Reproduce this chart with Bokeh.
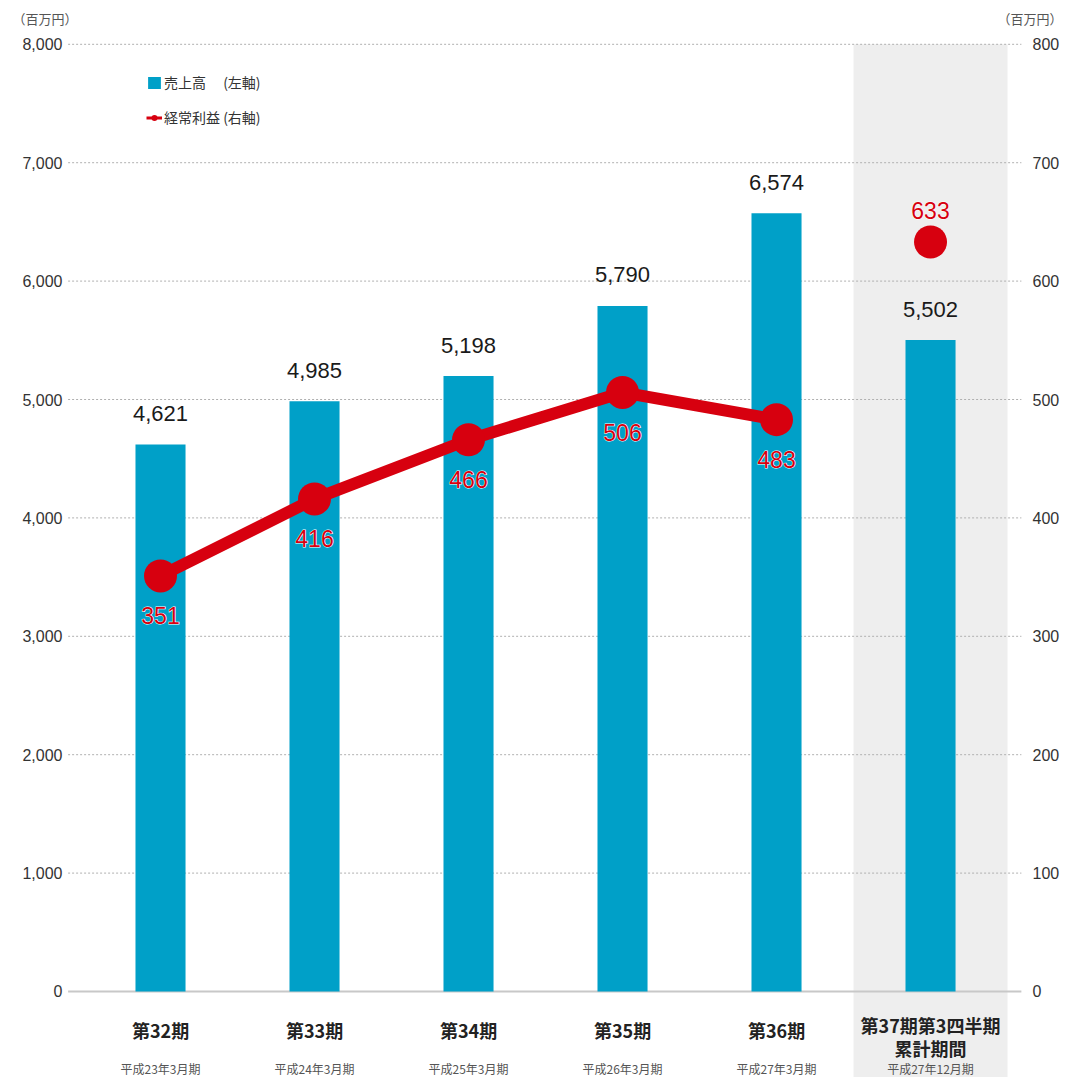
from bokeh.plotting import figure
from bokeh.models import (Range1d, Legend, LegendItem, ColumnDataSource)
from bokeh.core.properties import value
from bokeh.embed import file_html
from bokeh.resources import INLINE

# ---------------- data ----------------
categories = ["第32期", "第33期", "第34期", "第35期", "第36期", "第37期第3四半期\n累計期間"]
periods = ["平成23年3月期", "平成24年3月期", "平成25年3月期", "平成26年3月期",
           "平成27年3月期", "平成27年12月期"]
sales = [4621, 4985, 5198, 5790, 6574, 5502]          # 売上高 (左軸, 百万円)
profit = [351, 416, 466, 506, 483, 633]               # 経常利益 (右軸, 百万円)
left_ticks = [0, 1000, 2000, 3000, 4000, 5000, 6000, 7000, 8000]
right_ticks = [0, 100, 200, 300, 400, 500, 600, 700, 800]
unit_label = "（百万円）"
n_full_years = 5   # 通期 (line connects these)

# ---------------- style ----------------
BLUE = "#00a0c8"
RED = "#d7000f"
BAND = "#eeeeee"
JP = "Noto Sans CJK JP"
NUM = "Liberation Sans"
W, H = 1064, 1077
XS, XE = -1.039, 5.870          # x range (category index units)
YS, YE = -726.4, 8370.0         # left-axis range
GX0, GX1 = -0.6, 5.59           # horizontal extent of the plotting area
RATIO = left_ticks[-1] / right_ticks[-1]

x = list(range(len(categories)))

p = figure(width=W, height=H, x_range=Range1d(XS, XE), y_range=Range1d(YS, YE),
           x_axis_location=None, y_axis_location=None,
           output_backend="svg", toolbar_location=None,
           min_border=0)
p.outline_line_color = None
p.xgrid.visible = False
p.ygrid.visible = False
p.extra_y_ranges = {"right": Range1d(YS / RATIO, YE / RATIO)}

# shaded band for the latest (quarterly cumulative) period
last = x[-1]
p.quad(left=[last - 0.5], right=[last + 0.5], bottom=[YS], top=[left_ticks[-1]],
       fill_color=BAND, line_color=None)

# grid lines (dotted) and base line
g = left_ticks[1:]
p.segment(x0=[GX0] * len(g), x1=[GX1] * len(g), y0=g, y1=g,
          line_color="#b0b0b0", line_width=1, line_dash="2 2")
p.segment(x0=[GX0], x1=[GX1], y0=[left_ticks[0]], y1=[left_ticks[0]],
          line_color="#c8c8c8", line_width=2)

# left / right tick labels
p.text(x=[XS] * len(left_ticks), y=left_ticks, text=[f"{t:,}" for t in left_ticks],
       x_offset=62, text_align="right", text_baseline="middle",
       text_font=value(NUM), text_font_size="16px", text_color="#333333")
p.text(x=[XS] * len(right_ticks), y=right_ticks, text=[str(t) for t in right_ticks],
       y_range_name="right", x_offset=1032, text_align="left", text_baseline="middle",
       text_font=value(NUM), text_font_size="16px", text_color="#333333")
# unit labels
p.text(x=[XS, XS], y=[YE, YE], text=[unit_label, unit_label], x_offset=[12, 1062],
       y_offset=18, text_align=["left", "right"], text_baseline="middle",
       text_font=value(JP), text_font_size="13px", text_color="#555555")

# bars
src = ColumnDataSource(dict(x=x, sales=sales, profit=profit,
                            sales_lbl=[f"{v:,}" for v in sales]))
bars = p.vbar(x="x", top="sales", width=0.325, source=src, fill_color=BLUE, line_color=None)

# profit line (full years) + points
p.line(x[:n_full_years], profit[:n_full_years], y_range_name="right",
       line_color=RED, line_width=12)
p.scatter(x="x", y="profit", source=src, y_range_name="right",
          size=33, fill_color=RED, line_color=None)

# value labels for sales
p.text(x="x", y="sales", text="sales_lbl", source=src, y_offset=-31,
       text_align="center", text_baseline="middle",
       text_font=value(NUM), text_font_size="22px", text_color="#1a1a1a")

# value labels for profit (below points, last one above) with white halo
poff = [40] * n_full_years + [-32] * (len(profit) - n_full_years)
psrc = ColumnDataSource(dict(x=x, y=profit, t=[str(v) for v in profit], off=poff))
for col, outline in (("white", "white"), (RED, None)):
    p.text(x="x", y="y", text="t", source=psrc, y_range_name="right", y_offset="off",
           text_align="center", text_baseline="middle",
           text_font=value(NUM), text_font_size="23px", text_color=col,
           text_outline_color=outline)

# category labels
coff = [39 + 6 * c.count("\n") for c in categories]
csrc = ColumnDataSource(dict(x=x, y=[0] * len(x), t=categories, off=coff, per=periods))
p.text(x="x", y="y", text="t", source=csrc, y_offset="off",
       text_align="center", text_baseline="middle", text_line_height=0.92,
       text_font=value(JP), text_font_style="bold", text_font_size="18px",
       text_color="#222222")
p.text(x="x", y="y", text="per", source=csrc, y_offset=77,
       text_align="center", text_baseline="middle",
       text_font=value(JP), text_font_size="12px", text_color="#555555")

# legend (legend-only swatch renderers)
nan = float("nan")
lg_line = p.line(x=[nan], y=[nan], line_color=RED, line_width=3)
lg_dot = p.scatter(x=[nan], y=[nan], size=14, fill_color=RED, line_color=None)
legend = Legend(items=[LegendItem(label="売上高　 (左軸)", renderers=[bars]),
                       LegendItem(label="経常利益 (右軸)", renderers=[lg_line, lg_dot])],
                location=(146, 950), orientation="vertical",
                glyph_width=16, glyph_height=15, label_height=20,
                spacing=15, padding=0, margin=0, label_standoff=2,
                label_text_font=JP, label_text_font_size="14px",
                label_text_color="#333333",
                border_line_color=None, background_fill_alpha=0)
p.add_layout(legend, "center")

open("out.html", "w").write(file_html(p, INLINE))
